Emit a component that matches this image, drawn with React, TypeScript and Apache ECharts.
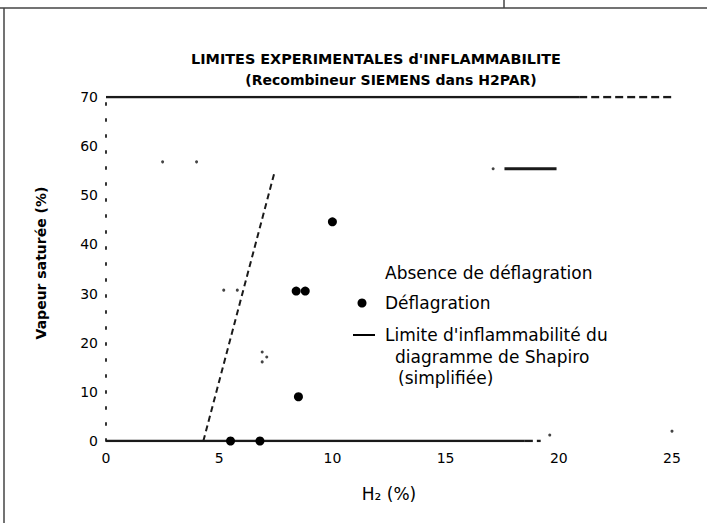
import React, { useEffect, useRef } from "react";
import * as echarts from "echarts";

const titleText = "LIMITES EXPERIMENTALES d'INFLAMMABILITE";
const subtitleText = "(Recombineur SIEMENS dans H2PAR)";
const xName = "H₂ (%)";
const yName = "Vapeur saturée (%)";

const xTicks = [0, 5, 10, 15, 20, 25];
const yTicks = [0, 10, 20, 30, 40, 50, 60, 70];

// Déflagration (filled markers)
const deflagration: [number, number][] = [
  [5.5, 0],
  [6.8, 0],
  [8.5, 9],
  [8.4, 30.5],
  [8.8, 30.5],
  [10.0, 44.6],
];

// Absence de déflagration (faded markers in the scan)
const absence: [number, number][] = [
  [2.5, 56.8],
  [4.0, 56.8],
  [5.2, 30.7],
  [5.8, 30.7],
  [6.9, 18.1],
  [7.1, 17.1],
  [6.9, 16.1],
  [17.1, 55.4],
  [19.6, 1.2],
  [25.0, 2.0],
];

// Horizontal segment near 55 %
const segment55: [number, number][] = [
  [17.6, 55.4],
  [19.9, 55.4],
];

// Limite d'inflammabilité du diagramme de Shapiro (simplifiée)
const shapiro: [number, number][] = [
  [4.3, 0],
  [7.45, 54.8],
];

// Upper and lower frame lines of the plot
const topSolid: [number, number][] = [
  [0, 70],
  [20.9, 70],
];
const topDashed: [number, number][] = [
  [20.9, 70],
  [25, 70],
];
const bottomSolid: [number, number][] = [
  [0, 0],
  [18.5, 0],
];
const bottomDashed: [number, number][] = [
  [18.5, 0],
  [19.2, 0],
];

const legendLabels = [
  "Absence de déflagration",
  "Déflagration",
  "Limite d'inflammabilité du",
  "diagramme de Shapiro",
  "(simplifiée)",
];

const FONT = "'DejaVu Sans', 'Liberation Sans', sans-serif";

export default function App() {
  const ref = useRef<HTMLDivElement>(null);

  useEffect(() => {
    if (!ref.current) return;
    const chart = echarts.init(ref.current, undefined, { renderer: "svg" });
    const lineSeries = (name: string, data: [number, number][], width: number, type: any) => ({
      name,
      type: "line",
      data,
      symbol: "none",
      silent: true,
      lineStyle: { color: "#1a1a1a", width, type },
      z: 2,
    });
    const legendText = (i: number, x: number, y: number) => ({
      type: "text",
      x,
      y,
      style: { text: legendLabels[i], fontFamily: FONT, fontSize: 17, fill: "#000", verticalAlign: "middle" },
    });
    chart.setOption({
      animation: false,
      backgroundColor: "#ffffff",
      title: [
        {
          text: titleText,
          left: 371,
          top: 47,
          textAlign: "center",
          textStyle: { fontFamily: FONT, fontSize: 14.4, fontWeight: "bold", color: "#000" },
        },
        {
          text: subtitleText,
          left: 386,
          top: 68,
          textAlign: "center",
          textStyle: { fontFamily: FONT, fontSize: 14, fontWeight: "bold", color: "#000" },
        },
      ],
      grid: { left: 106, right: 35, top: 97, bottom: 82, containLabel: false },
      xAxis: {
        type: "value",
        min: xTicks[0],
        max: xTicks[xTicks.length - 1],
        interval: 5,
        name: xName,
        nameLocation: "middle",
        nameGap: 44,
        nameTextStyle: { fontFamily: FONT, fontSize: 17, color: "#000" },
        axisLine: { show: false },
        axisTick: { show: false },
        splitLine: { show: false },
        axisLabel: { fontFamily: FONT, fontSize: 14, color: "#000", margin: 10 },
      },
      yAxis: {
        type: "value",
        min: yTicks[0],
        max: yTicks[yTicks.length - 1],
        interval: 10,
        name: yName,
        nameLocation: "middle",
        nameGap: 58,
        nameTextStyle: { fontFamily: FONT, fontSize: 14, fontWeight: "bold", color: "#000", padding: [0, 0, 0, 12] },
        axisLine: { show: true, lineStyle: { color: "#333", width: 2, type: [2, 14] } },
        axisTick: { show: false },
        splitLine: { show: false },
        axisLabel: { fontFamily: FONT, fontSize: 14, color: "#000", margin: 8 },
      },
      series: [
        lineSeries("top", topSolid, 2.5, "solid"),
        lineSeries("topDashed", topDashed, 2.5, [8, 4]),
        lineSeries("bottom", bottomSolid, 2.5, "solid"),
        lineSeries("bottomDashed", bottomDashed, 2.5, [8, 4]),
        lineSeries("segment", segment55, 3, "solid"),
        lineSeries("Limite d'inflammabilité du diagramme de Shapiro (simplifiée)", shapiro, 2, [6, 4]),
        {
          name: "Absence de déflagration",
          type: "scatter",
          data: absence,
          symbol: "circle",
          symbolSize: 3,
          itemStyle: { color: "#444", opacity: 1 },
          z: 3,
        },
        {
          name: "Déflagration",
          type: "scatter",
          data: deflagration,
          symbol: "circle",
          symbolSize: 9,
          itemStyle: { color: "#000", opacity: 1 },
          z: 4,
        },
      ],
      graphic: [
        // page frame lines
        { type: "line", shape: { x1: 0, y1: 8, x2: 707, y2: 8 }, style: { stroke: "#444", lineWidth: 1.5 } },
        { type: "line", shape: { x1: 4, y1: 8, x2: 4, y2: 523 }, style: { stroke: "#444", lineWidth: 1.5 } },
        { type: "line", shape: { x1: 504, y1: 0, x2: 504, y2: 8 }, style: { stroke: "#444", lineWidth: 1.5 } },
        // legend
        legendText(0, 385, 273),
        { type: "circle", shape: { cx: 362, cy: 303, r: 4.5 }, style: { fill: "#000" } },
        legendText(1, 385, 303),
        { type: "line", shape: { x1: 353, y1: 335, x2: 375, y2: 335 }, style: { stroke: "#000", lineWidth: 2 } },
        legendText(2, 385, 335),
        legendText(3, 395, 357),
        legendText(4, 398, 378),
      ],
    });
    return () => chart.dispose();
  }, []);

  return (
    <div
      ref={ref}
      style={{ position: "fixed", left: 0, top: 0, width: 707, height: 523, background: "#fff" }}
    />
  );
}
